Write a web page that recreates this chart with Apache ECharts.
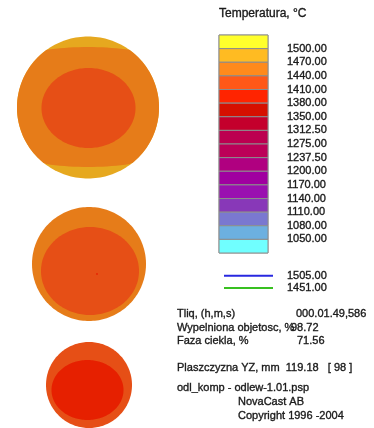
<!DOCTYPE html>
<html>
<head>
<meta charset="utf-8">
<script src="https://cdn.jsdelivr.net/npm/echarts@6/dist/echarts.min.js"></script>
<style>
  html, body { margin: 0; padding: 0; background: #ffffff; }
  #chart { width: 374px; height: 428px; }
</style>
</head>
<body>
<div id="chart"></div>
<script>
// Temperature scale, hottest band first (16 bands, 15 boundaries)
const bandColors = ['#ffff2c', '#ffbb22', '#ff8a1c', '#ff5818', '#ff2400', '#d61000', '#c4002c', '#bc0050',
                    '#bc0058', '#b00080', '#a000a0', '#9a10b0', '#8838b8', '#7a78d0', '#6cb0e0', '#70ffff'];
const tickValues = [1500, 1470, 1440, 1410, 1380, 1350, 1312.5, 1275, 1237.5, 1200, 1170, 1140, 1110, 1080, 1050];
const tickLabels = ['1500.00', '1470.00', '1440.00', '1410.00', '1380.00', '1350.00', '1312.50', '1275.00',
                    '1237.50', '1200.00', '1170.00', '1140.00', '1110.00', '1080.00', '1050.00'];

// Isotherms
const isoLabels = ['1505.00', '1451.00'];
const isoColors = ['#2828e0', '#38c020'];

// Cross-sections of the casting in the YZ plane (mm): centre and outer radius
const sectionY = [0, 1, 1];
const sectionZ = [106.5, -50, -171];
const sectionR = [71, 57, 43];
const sectionTemp = [1485, 1455, 1425];   // temperature at the rim of each section

// Inner temperature zones: section, centre offset (mm), half-axes (mm), temperature (°C)
const zoneSection = [0, 0, 1, 1, 2];
const zoneDY = [0, 0.5, 1, 8, -1.5];
const zoneDZ = [0.5, -0.5, -7, -10, -5];
const zoneRY = [135, 47, 49, 0.9, 36];
const zoneRZ = [60, 40, 44, 0.9, 30];
const zoneTemp = [1455, 1425, 1425, 1395, 1395];

// Run information
const infoLabels = ['Tliq, (h,m,s)', 'Wypelniona objetosc, %', 'Faza ciekla, %'];
const infoValues = ['000.01.49,586', '98.72', '71.56'];
const planeText = 'Plaszczyzna YZ, mm  119.18   [ 98 ]';
const footerLines = ['odl_komp - odlew-1.01.psp', 'NovaCast AB', 'Copyright 1996 -2004'];

const FONT = '"Liberation Sans", Arial, sans-serif';
const TXT = '#1a1a1a';

function bandIndex(t) {
  for (let i = 0; i < tickValues.length; i++) {
    if (t >= tickValues[i]) return i;
  }
  return tickValues.length;
}
// the field is painted a little darker than the scale swatches
function shade(hex, f) {
  const n = parseInt(hex.slice(1), 16);
  const r = Math.round(((n >> 16) & 255) * f);
  const g = Math.round(((n >> 8) & 255) * f);
  const b = Math.round((n & 255) * f);
  return 'rgb(' + r + ',' + g + ',' + b + ')';
}
function fieldColor(t) { return shade(bandColors[bandIndex(t)], 0.9); }

// every zone as one record: disc of the section first, then inner zones
const zones = [];
sectionR.forEach((r, s) => zones.push([s, 0, 0, r, r, sectionTemp[s]]));
zoneSection.forEach((s, i) => zones.push([s, zoneDY[i], zoneDZ[i], zoneRY[i], zoneRZ[i], zoneTemp[i]]));

function renderZone(params, api) {
  const s = api.value(0);
  const cy = sectionY[s], cz = sectionZ[s], R = sectionR[s];
  const dy = api.value(1), dz = api.value(2), ry = api.value(3), rz = api.value(4);
  const pts = [];
  for (let a = 0; a < 360; a += 2) {
    const th = a * Math.PI / 180;
    let y = cy + dy + ry * Math.cos(th);
    let z = cz + dz + rz * Math.sin(th);
    const d = Math.hypot(y - cy, z - cz);
    if (d > R) { y = cy + (y - cy) * R / d; z = cz + (z - cz) * R / d; }
    pts.push(api.coord([y, z]));
  }
  return {
    type: 'polygon',
    shape: { points: pts },
    style: { fill: fieldColor(api.value(5)), stroke: null }
  };
}

function renderBand(params, api) {
  const i = api.value(0);
  const p0 = api.coord([0, i]);
  const p1 = api.coord([1, i + 1]);
  return {
    type: 'rect',
    shape: { x: p0[0], y: Math.min(p0[1], p1[1]), width: p1[0] - p0[0], height: Math.abs(p1[1] - p0[1]) },
    style: { fill: bandColors[i], stroke: '#8c8c8c', lineWidth: 1 }
  };
}

const chart = echarts.init(document.getElementById('chart'), null, { renderer: 'canvas' });

function txt(x, y, text, size) {
  return { type: 'text', x: x, y: y,
    style: { text: text, font: (size || 11) + 'px ' + FONT, fill: TXT, verticalAlign: 'middle',
             stroke: TXT, lineWidth: 0.35 } };
}

const infoGraphics = [];
infoLabels.forEach((t, i) => infoGraphics.push(txt(177, 314 + i * 13.5, t)));
const valueX = [296, 291, 297];
infoValues.forEach((t, i) => infoGraphics.push(txt(valueX[i], 314 + i * 13.5, t)));
infoGraphics.push(txt(177, 368, planeText));
footerLines.forEach((t, i) => infoGraphics.push(txt(i === 0 ? 177 : 238, 388 + i * 14, t)));

chart.setOption({
  animation: false,
  backgroundColor: '#ffffff',
  grid: [
    { left: 0, top: 0, width: 176, height: 428, show: false },
    { left: 219, top: 35, width: 49, height: 218, show: true, borderColor: '#a0a0a0', borderWidth: 1, backgroundColor: 'transparent' }
  ],
  xAxis: [
    { gridIndex: 0, type: 'value', min: -88, max: 88, show: false },
    { gridIndex: 1, type: 'value', min: 0, max: 1, show: false }
  ],
  yAxis: [
    { gridIndex: 0, type: 'value', min: -214, max: 214, show: false },
    {
      gridIndex: 1, type: 'value', min: 0, max: tickLabels.length + 1, interval: 1, inverse: true, position: 'right',
      axisLine: { show: false },
      splitLine: { show: false },
      axisTick: { show: true, length: 12, lineStyle: { color: '#9a9a9a', width: 1 },
                  customValues: tickLabels.map((_, i) => i + 1) },
      axisLabel: { margin: 19, fontFamily: FONT, fontSize: 11, color: TXT,
                   textBorderColor: TXT, textBorderWidth: 0.35,
                   customValues: tickLabels.map((_, i) => i + 1),
                   formatter: v => tickLabels[v - 1] || '' }
    }
  ],
  legend: {
    orient: 'vertical', left: 219, top: 265, itemWidth: 49, itemHeight: 2, itemGap: 1,
    icon: 'rect', selectedMode: false,
    data: isoLabels,
    textStyle: { fontFamily: FONT, fontSize: 11, color: TXT, textBorderColor: TXT, textBorderWidth: 0.35,
                 padding: [0, 0, 0, 9] }
  },
  graphic: [txt(219, 14, 'Temperatura, °C', 12)].concat(infoGraphics),
  series: [
    { type: 'custom', xAxisIndex: 0, yAxisIndex: 0, renderItem: renderZone, data: zones, silent: true },
    { type: 'custom', xAxisIndex: 1, yAxisIndex: 1, renderItem: renderBand, data: bandColors.map((c, i) => [i]), silent: true }
  ].concat(isoLabels.map((name, i) => ({
    type: 'line', name: name, xAxisIndex: 1, yAxisIndex: 1, data: [], color: isoColors[i]
  })))
});
</script>
</body>
</html>
